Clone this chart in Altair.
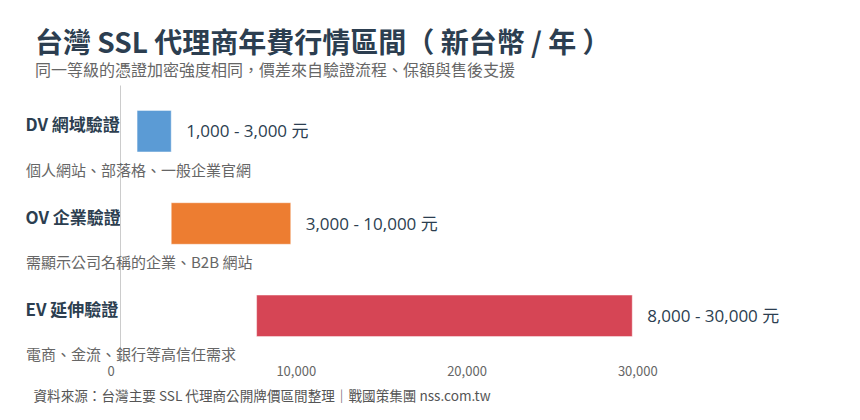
import altair as alt
import pandas as pd

categories = ["DV 網域驗證", "OV 企業驗證", "EV 延伸驗證"]
descriptions = ["個人網站、部落格、一般企業官網", "需顯示公司名稱的企業、B2B 網站", "電商、金流、銀行等高信任需求"]
low = [1000, 3000, 8000]
high = [3000, 10000, 30000]
range_labels = ["1,000 - 3,000 元", "3,000 - 10,000 元", "8,000 - 30,000 元"]
colors = ["#5b9bd5", "#ed7d31", "#d64555"]
x_ticks = [0, 10000, 20000, 30000]

df = pd.DataFrame({"cat": categories, "desc": descriptions, "low": low, "high": high, "label": range_labels})

FONT = "Noto Sans CJK TC"
LATIN = "Open Sans, Noto Sans CJK TC"

yenc = alt.Y("cat:N", sort=categories,
             scale=alt.Scale(paddingInner=0.55, paddingOuter=0.275),
             axis=alt.Axis(title=None, ticks=False, grid=False, domain=True, domainColor="#cccccc",
                           domainWidth=1, labelAlign="left", labelPadding=95, labelOffset=-5,
                           labelBaseline="middle", labelFontSize=17, labelFontWeight="bold",
                           labelColor="#2c3e50", labelFont=FONT, labelLimit=0))

xscale = alt.Scale(domain=[0, 40000], nice=False)

bars = alt.Chart(df).mark_bar(stroke="white", strokeWidth=1, strokeOpacity=0.45).encode(
    x=alt.X("low:Q", scale=xscale,
            axis=alt.Axis(values=x_ticks, format=",d", grid=False, ticks=False, domain=False,
                          labelFontSize=13, labelColor="#666666", labelFont=FONT, labelPadding=3,
                          labelOffset={"expr": "datum.value == 0 ? -13 : 5"},
                          title="資料來源：台灣主要 SSL 代理商公開牌價區間整理｜戰國策集團 nss.com.tw",
                          titleFont=FONT, titleFontSize=13.6, titleFontWeight="normal", titleColor="#555555",
                          titleAnchor="start", titleAlign="left", titleBaseline="middle",
                          titleX=-87, titleY=34)),
    x2="high:Q",
    y=yenc,
    color=alt.Color("cat:N", scale=alt.Scale(domain=categories, range=colors), legend=None),
)

values = alt.Chart(df).mark_text(align="left", baseline="middle", dx=15, dy=1, fontSize=17,
                                 color="#2c3e50", font=LATIN).encode(
    x=alt.X("high:Q", scale=xscale),
    y=alt.Y("cat:N", sort=categories),
    text="label:N",
)

descs = alt.Chart(df).mark_text(align="left", baseline="middle", dy=39.5, fontSize=15,
                                color="#666666", font=FONT).encode(
    x=alt.value(-94),
    y=alt.Y("cat:N", sort=categories),
    text="desc:N",
)

chart = alt.layer(bars, values, descs).properties(
    width=683,
    height=277,
    padding={"left": 112, "top": 77, "right": 30, "bottom": 50},
    autosize=alt.AutoSizeParams(type="none"),
    title=alt.TitleParams(
        text="台灣 SSL 代理商年費行情區間（ 新台幣 / 年 ）",
        subtitle="同一等級的憑證加密強度相同，價差來自驗證流程、保額與售後支援",
        anchor="start", frame="group", dx=-85, offset=6,
        font=FONT, fontSize=28, fontWeight="bold", color="#2c3e50",
        subtitleFont=FONT, subtitleFontSize=16, subtitleColor="#666666", subtitlePadding=4,
    ),
).configure(background="white").configure_view(stroke=None)

chart.save("out.html", embed_options={"renderer": "svg", "actions": False})
